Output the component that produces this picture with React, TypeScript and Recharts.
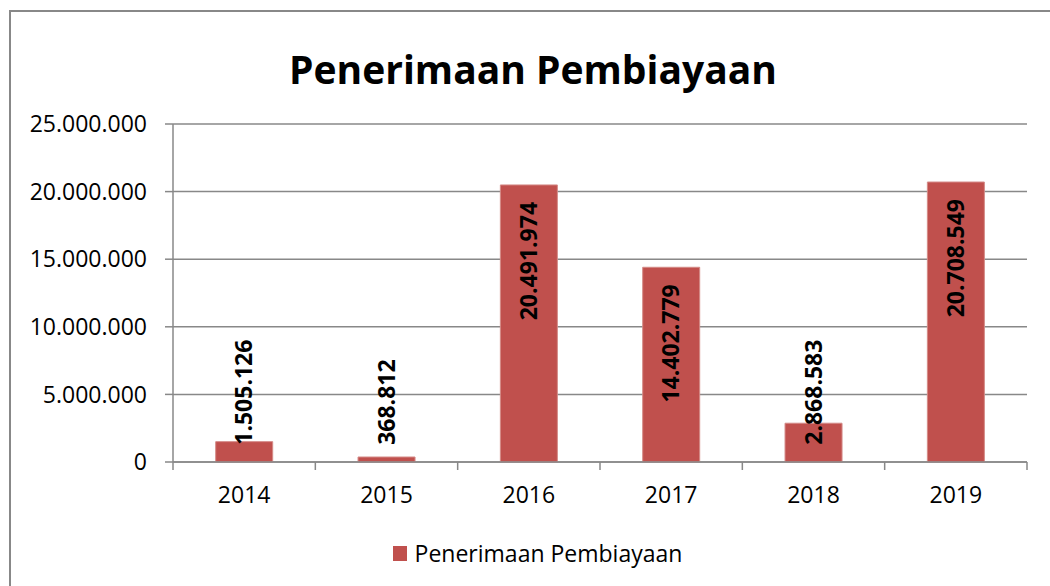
import { Bar, BarChart, CartesianGrid, LabelList, Legend, XAxis, YAxis } from "recharts";

const years = ["2014", "2015", "2016", "2017", "2018", "2019"];
const penerimaan = [1505126, 368812, 20491974, 14402779, 2868583, 20708549];
const yTicks = [0, 5000000, 10000000, 15000000, 20000000, 25000000];
const seriesName = "Penerimaan Pembiayaan";
const chartTitle = "Penerimaan Pembiayaan";

const data = years.map((year, i) => ({ year, value: penerimaan[i] }));

const W = 1050;
const H = 586;
const PLOT_LEFT = 173;
const PLOT_RIGHT = 1027;
const PLOT_TOP = 124;
const PLOT_BOTTOM = 462;
const BAND = (PLOT_RIGHT - PLOT_LEFT) / years.length;
const FONT = "'Open Sans', sans-serif";
const GRAY = "#888888";
const RED = "#C0504D";

// 25000000 -> "25.000.000"
const fmt = (v: number) => String(v).replace(/\B(?=(\d{3})+(?!\d))/g, ".");

function XTick(props: any) {
  const { x, payload, index } = props;
  const half = BAND / 2;
  return (
    <g>
      <line x1={x - half} x2={x - half} y1={PLOT_BOTTOM} y2={PLOT_BOTTOM + 8} stroke={GRAY} strokeWidth={1.5} />
      {index === years.length - 1 && (
        <line x1={x + half} x2={x + half} y1={PLOT_BOTTOM} y2={PLOT_BOTTOM + 8} stroke={GRAY} strokeWidth={1.5} />
      )}
      <text x={x} y={503} textAnchor="middle" fontSize={23} fontFamily={FONT} fill="#000">
        {payload.value}
      </text>
    </g>
  );
}

function BarValue(props: any) {
  const { x, y, width, value } = props;
  const s = fmt(Number(value));
  const fs = 23;
  // rough text length, so short bars keep the label above the axis
  const len = s.split("").reduce((a, c) => a + (c === "." ? 0.29 : 0.572) * fs, 0);
  const cx = Number(x) + Number(width) / 2;
  const top = Math.min(Number(y) + 17, PLOT_BOTTOM - 17 - len);
  return (
    <text
      transform={`translate(${cx},${top}) rotate(-90)`}
      x={0}
      y={0}
      dy="0.36em"
      textAnchor="end"
      fontSize={fs}
      fontWeight="bold"
      fontFamily={FONT}
      fill="#000"
    >
      {s}
    </text>
  );
}

function LegendBox() {
  return (
    <div
      style={{
        height: 30,
        display: "flex",
        justifyContent: "center",
        alignItems: "center",
        transform: "translateX(24px)",
        fontFamily: FONT,
        fontSize: 23,
        lineHeight: "30px",
        color: "#000",
      }}
    >
      <span style={{ display: "inline-block", width: 14, height: 15, background: RED, marginRight: 8 }} />
      <span>{seriesName}</span>
    </div>
  );
}

export default function App() {
  return (
    <div
      style={{
        position: "absolute",
        left: 0,
        top: 0,
        width: W,
        height: H,
        overflow: "hidden",
        background: "#fff",
      }}
    >
      <div
        style={{
          position: "absolute",
          left: 9,
          top: 10,
          width: 1060,
          height: 620,
          border: `2px solid ${GRAY}`,
          boxSizing: "border-box",
        }}
      />
      <div
        style={{
          position: "absolute",
          left: 0,
          top: 49,
          width: 1066,
          textAlign: "center",
          fontFamily: FONT,
          fontWeight: "bold",
          fontSize: 39,
          lineHeight: "39px",
          color: "#000",
        }}
      >
        {chartTitle}
      </div>
      <div style={{ position: "absolute", left: 0, top: 0 }}>
        <BarChart
          width={W}
          height={H}
          data={data}
          margin={{ top: PLOT_TOP, right: W - PLOT_RIGHT, bottom: 18, left: 0 }}
          barCategoryGap="30%"
        >
          <CartesianGrid vertical={false} stroke={GRAY} strokeWidth={1.5} />
          <XAxis
            dataKey="year"
            height={76}
            tickLine={false}
            tick={XTick}
            axisLine={{ stroke: GRAY, strokeWidth: 1.5 }}
            interval={0}
          />
          <YAxis
            width={PLOT_LEFT}
            domain={[0, 25000000]}
            ticks={yTicks}
            interval={0}
            tickFormatter={fmt}
            tickSize={8}
            tickMargin={18}
            tick={{ fontSize: 23, fill: "#000", fontFamily: FONT }}
            tickLine={{ stroke: GRAY, strokeWidth: 1.5 }}
            axisLine={{ stroke: GRAY, strokeWidth: 1.5 }}
          />
          <Legend verticalAlign="bottom" content={LegendBox} />
          <Bar dataKey="value" name={seriesName} fill={RED} stroke="#d48a87" strokeWidth={1} isAnimationActive={false}>
            <LabelList dataKey="value" content={BarValue} />
          </Bar>
        </BarChart>
      </div>
    </div>
  );
}
